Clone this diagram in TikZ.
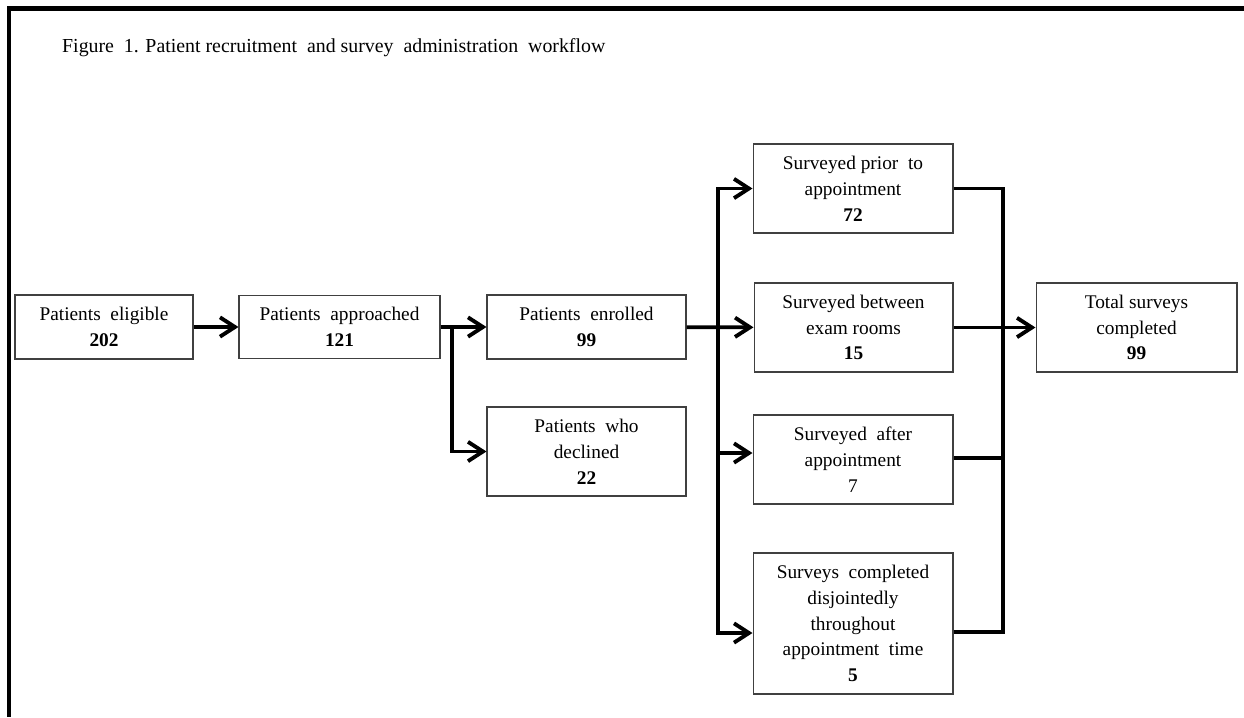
\documentclass[tikz,border=0pt]{standalone}
\usepackage{fontspec}
\setmainfont{Liberation Serif}
\usetikzlibrary{positioning, arrows.meta, calc}

\begin{document}
\begin{tikzpicture}[x=0.02cm, y=-0.02cm,
    every node/.style={font=\fontsize{11}{14.7}\selectfont},
    box/.style={draw=black!75, line width=0.6pt, align=center, inner sep=0pt},
    arr/.style={line width=2.2pt, -{Straight Barb[length=8.5pt, width=11pt]}},
    bar/.style={line width=2.2pt}]
    \useasboundingbox (0,0) rectangle (1244,717);

    % Frame and title
    \draw[line width=2.4pt] (1244,8.5) -- (9,8.5) -- (9,717);
    \node[anchor=west, font=\fontsize{11.3}{14}\selectfont] (title) at (56,48) {Figure~~1. Patient recruitment~~and survey~~administration~~workflow};

    % Recruitment
    \node[box, minimum width=3.56cm, minimum height=1.28cm] (elig) at (104,327) {Patients~~eligible\\\textbf{202}};
    \node[box, minimum width=4.02cm, minimum height=1.26cm] (appr) at (339.5,327) {Patients~~approached\\\textbf{121}};
    \node[box, minimum width=3.98cm, minimum height=1.28cm] (enr) at (586.5,327) {Patients~~enrolled\\\textbf{99}};
    \node[box, minimum width=3.98cm, minimum height=1.78cm] (decl) at (586.5,451.5) {Patients~~who\\declined\\\textbf{22}};

    % Surveys
    \node[box, minimum width=4cm, minimum height=1.78cm] (prior) at (853,188.5) {Surveyed prior~~to\\appointment\\\textbf{72}};
    \node[box, minimum width=3.98cm, minimum height=1.78cm] (betw) at (853.5,327.5) {Surveyed between\\exam rooms\\\textbf{15}};
    \node[box, minimum width=4cm, minimum height=1.78cm] (after) at (853,459.5) {Surveyed~~after\\appointment\\7};
    \node[box, minimum width=4cm, minimum height=2.82cm] (disj) at (853,623.5) {Surveys~~completed\\disjointedly\\throughout\\appointment~~time\\\textbf{5}};
    \node[box, minimum width=4.02cm, minimum height=1.78cm] (total) at (1136.5,327.5) {Total surveys\\completed\\\textbf{99}};

    % Arrows
    \coordinate (split) at (452,327);
    \coordinate (fan) at (718,327);
    \coordinate (join) at (1003,327);
    \draw[arr] (elig) -- (appr);
    \draw[arr] (appr) -- (enr);
    \draw[arr] (split) |- (decl.west);
    \draw[arr] (enr) -- (betw);
    \draw[arr] (fan) |- (prior.west);
    \draw[arr] (fan) |- ([yshift=0.13cm]after.west);
    \draw[arr] (fan) |- ([yshift=-0.19cm]disj.west);
    \draw[bar] (prior.east) -| (join);
    \draw[bar] ([yshift=0.03cm]after.east) -| (join);
    \draw[bar] ([yshift=-0.17cm]disj.east) -| (join);
    \draw[arr] (betw) -- (total);
\end{tikzpicture}
\end{document}
